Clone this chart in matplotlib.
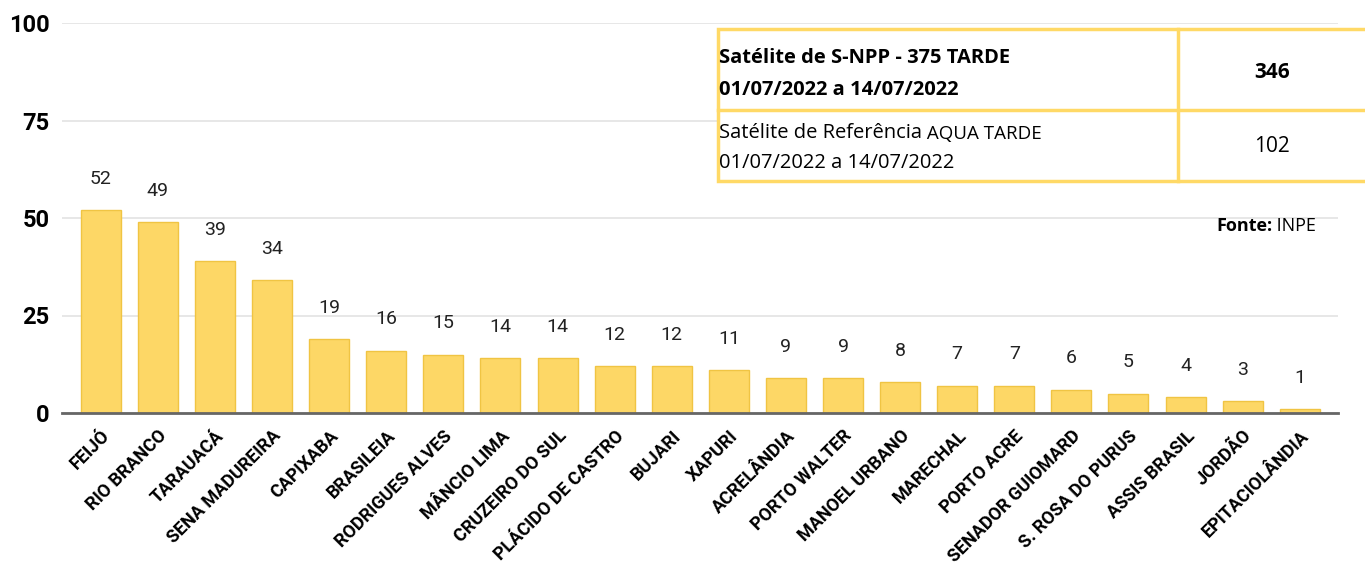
import matplotlib.pyplot as plt
from matplotlib.patches import Rectangle
from matplotlib.lines import Line2D
from matplotlib.text import Annotation

# dados
municipios = ["FEIJÓ", "RIO BRANCO", "TARAUACÁ", "SENA MADUREIRA", "CAPIXABA",
              "BRASILEIA", "RODRIGUES ALVES", "MÂNCIO LIMA", "CRUZEIRO DO SUL",
              "PLÁCIDO DE CASTRO", "BUJARI", "XAPURI", "ACRELÂNDIA", "PORTO WALTER",
              "MANOEL URBANO", "MARECHAL", "PORTO ACRE", "SENADOR GUIOMARD",
              "S. ROSA DO PURUS", "ASSIS BRASIL", "JORDÃO", "EPITACIOLÂNDIA"]
focos = [52, 49, 39, 34, 19, 16, 15, 14, 14, 12, 12, 11, 9, 9, 8, 7, 7, 6, 5, 4, 3, 1]
yticks = [0, 25, 50, 75, 100]

tab_sat1 = "Satélite de S-NPP - 375 TARDE"
tab_sat2 = ["Satélite de Referência", "AQUA TARDE"]
tab_periodo = "01/07/2022 a 14/07/2022"
tab_valores = ["346", "102"]

W, H = 1365, 571
fig = plt.figure(figsize=(W / 100, H / 100), dpi=100)
ax = fig.add_axes([62 / W, 158 / H, (1338 - 62) / W, 390 / H])

x = list(range(len(municipios)))
ax.bar(x, focos, width=0.7, color="#FDD766", edgecolor="#F0C443", linewidth=1, zorder=3)
for xi, v in zip(x, focos):
    ax.annotate(str(v), (xi, v), xytext=(0, 16), textcoords="offset points",
                ha="center", va="bottom", fontsize=14, family="Roboto", color="#222222")

ax.set_ylim(0, 100)
ax.set_xlim(-0.68, len(municipios) - 1 + 0.67)
ax.set_yticks(yticks)
ax.set_yticklabels([str(t) for t in yticks], fontsize=17, fontweight="bold", family="Roboto")
ax.set_xticks(x)
ax.set_xticklabels(municipios, rotation=45, ha="right", rotation_mode="anchor",
                   fontsize=13, fontweight="bold", family="Roboto")
ax.tick_params(axis="y", length=0, pad=9)
ax.tick_params(axis="x", length=0, pad=10)
ax.grid(axis="y", color="#E3E3E3", linewidth=1.2, zorder=0)
for s in ["top", "right", "left"]:
    ax.spines[s].set_visible(False)
ax.spines["bottom"].set_color("#666666")
ax.spines["bottom"].set_linewidth(2)
ax.spines["bottom"].set_zorder(4)

# tabela no canto superior direito
ouro = "#FFD966"
def fx(px):
    return px / W
def fy(py):
    return 1 - py / H

fig.patches.append(Rectangle((fx(718), fy(181)), fx(1368) - fx(718), fy(29) - fy(181),
                             transform=fig.transFigure, facecolor="white",
                             edgecolor=ouro, linewidth=2.5, zorder=5))
fig.lines.append(Line2D([fx(718), fx(1365)], [fy(110), fy(110)], transform=fig.transFigure,
                        color=ouro, linewidth=2.5, zorder=6))
fig.lines.append(Line2D([fx(1178), fx(1178)], [fy(29), fy(181)], transform=fig.transFigure,
                        color=ouro, linewidth=2.5, zorder=6))

fs = 14.5
fig.text(fx(719), fy(58), tab_sat1, fontsize=fs, fontweight="bold",
         family="Open Sans", va="center", ha="left", zorder=7)
fig.text(fx(719), fy(90), tab_periodo, fontsize=fs, fontweight="bold",
         family="Open Sans", va="center", ha="left", zorder=7)
fig.text(fx(1272), fy(72), tab_valores[0], fontsize=fs + 0.5, fontweight="bold",
         family="Open Sans", va="center", ha="center", zorder=7)
t = fig.text(fx(719), fy(138), tab_sat2[0], fontsize=fs,
             family="Open Sans", va="baseline", ha="left", zorder=7)
fig.add_artist(Annotation(" " + tab_sat2[1], xy=(1, 0), xycoords=t, va="bottom", ha="left",
                          fontsize=13.5, family="Open Sans", zorder=8, annotation_clip=False))
fig.text(fx(719), fy(163), tab_periodo, fontsize=fs,
         family="Open Sans", va="center", ha="left", zorder=7)
fig.text(fx(1272), fy(147), tab_valores[1], fontsize=fs + 0.5,
         family="Open Sans", va="center", ha="center", zorder=7)

f = fig.text(fx(1216), fy(226), "Fonte:", fontsize=13, fontweight="bold",
             family="Open Sans", ha="left", va="center")
fig.add_artist(Annotation(" INPE", xy=(1, 0.5), xycoords=f, va="center", ha="left",
                          fontsize=13, family="Open Sans", annotation_clip=False))

fig.savefig("out.png", dpi=100)
